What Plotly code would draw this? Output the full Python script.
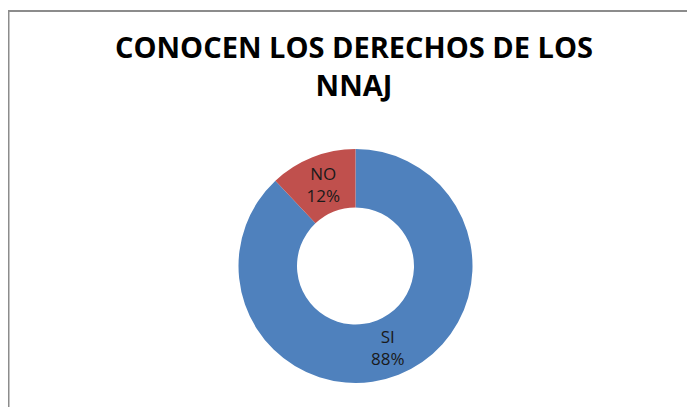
import plotly.graph_objects as go

categories = ["SI", "NO"]
values = [88, 12]
colors = ["#4F81BD", "#C0504D"]
title_text = "CONOCEN LOS DERECHOS DE LOS<br>NNAJ"

W, H = 695, 407
# page is offset by the 8px body margin, so positions are given in figure coords
cx, cy, r = 347.5, 258, 117

fig = go.Figure(
    go.Pie(
        labels=categories,
        values=values,
        hole=0.5,
        sort=False,
        direction="clockwise",
        rotation=0,
        marker=dict(colors=colors, line=dict(width=0)),
        texttemplate="%{label}<br>%{percent}",
        textposition="inside",
        insidetextorientation="horizontal",
        textfont=dict(family="Open Sans", size=17, color="#1a1a1a"),
        showlegend=False,
        hoverinfo="label+percent",
        domain=dict(
            x=[(cx - r) / W, (cx + r) / W],
            y=[(H - cy - r) / H, (H - cy + r) / H],
        ),
    )
)

fig.update_layout(
    width=W,
    height=H,
    margin=dict(l=0, r=0, t=0, b=0),
    paper_bgcolor="white",
    plot_bgcolor="white",
    uniformtext=dict(minsize=17, mode="show"),
    title=dict(
        text=title_text,
        x=346 / W,
        xanchor="center",
        y=1 - 50 / H,
        yanchor="top",
        font=dict(family="Open Sans", size=29, color="#000000", weight=700),
    ),
    shapes=[
        dict(
            type="rect",
            xref="paper",
            yref="paper",
            x0=0.5 / W,
            x1=1.05,
            y0=-0.05,
            y1=1 - 3 / H,
            line=dict(color="#8c8c8c", width=2),
            layer="below",
        )
    ],
)

fig.write_html("out.html")
